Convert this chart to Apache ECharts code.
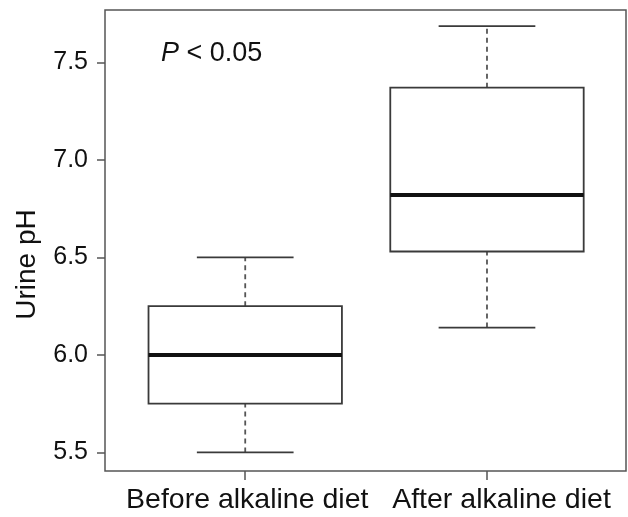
<!DOCTYPE html>
<html>
<head>
<meta charset="utf-8">
<script src="https://cdn.jsdelivr.net/npm/echarts@6/dist/echarts.min.js"></script>
<style>
html,body{margin:0;padding:0;background:#fff;}
#chart{width:628px;height:517px;}
</style>
</head>
<body>
<div id="chart"></div>
<script>
var categories = ['Before alkaline diet', 'After alkaline diet'];
var positions = [1, 2];
var lowerWhisker = [5.5, 6.14];
var q1 = [5.75, 6.53];
var median = [6.0, 6.82];
var q3 = [6.25, 7.37];
var upperWhisker = [6.5, 7.685];
var yTicks = [5.5, 6.0, 6.5, 7.0, 7.5];
var yAxisTitle = 'Urine pH';
var annotation = ['P', ' < 0.05'];

var FONT = '"Liberation Sans", Arial, Helvetica, sans-serif';
var TEXT = '#111';
var LINE = '#3a3a3a';

var data = positions.map(function (p, i) {
  return [p, lowerWhisker[i], q1[i], median[i], q3[i], upperWhisker[i]];
});

var chart = echarts.init(document.getElementById('chart'), null, {renderer: 'canvas'});
chart.setOption({
  animation: false,
  backgroundColor: '#fff',
  grid: {left: 105, right: 2, top: 10, bottom: 46, show: true, borderColor: '#555', borderWidth: 1.5, backgroundColor: 'transparent'},
  xAxis: {
    type: 'value', min: 0.42, max: 2.575,
    axisLine: {show: false},
    splitLine: {show: false},
    axisTick: {show: true, customValues: positions, length: 9, lineStyle: {color: '#555', width: 1.5}},
    axisLabel: {
      customValues: positions, margin: 15,
      formatter: function (v) { var i = positions.indexOf(v); return i === 0 ? '{a|' + categories[i] + '}' : '{b|' + categories[i] + '}'; },
      rich: {
        a: {fontSize: 28.5, fontFamily: FONT, color: TEXT, padding: [0, 0, 0, 4]},
        b: {fontSize: 28.5, fontFamily: FONT, color: TEXT, padding: [0, 0, 0, 29]}
      }
    }
  },
  yAxis: {
    type: 'value', min: 5.405, max: 7.768,
    name: yAxisTitle, nameLocation: 'middle', nameRotate: 90, nameGap: 64,
    nameTextStyle: {fontSize: 28, fontFamily: FONT, color: TEXT, padding: [0, 48, 0, 0]},
    axisLine: {show: false},
    splitLine: {show: false},
    axisTick: {show: true, customValues: yTicks, length: 8, lineStyle: {color: '#555', width: 1.5}},
    axisLabel: {customValues: yTicks, margin: 17, fontSize: 25, fontFamily: FONT, color: TEXT,
      formatter: function (v) { return v.toFixed(1); }}
  },
  graphic: [{
    type: 'text', left: 161, top: 40,
    style: {
      text: '{i|' + annotation[0] + '}{n|' + annotation[1] + '}',
      rich: {
        i: {fontSize: 27, fontStyle: 'italic', fontFamily: FONT, fill: TEXT, color: TEXT},
        n: {fontSize: 27, fontFamily: FONT, fill: TEXT, color: TEXT}
      }
    }
  }],
  series: [{
    type: 'custom',
    data: data,
    encode: {x: 0, y: [1, 2, 3, 4, 5]},
    renderItem: function (params, api) {
      var x = api.value(0);
      var lo = api.coord([x, api.value(1)]);
      var a = api.coord([x, api.value(2)]);
      var m = api.coord([x, api.value(3)]);
      var b = api.coord([x, api.value(4)]);
      var hi = api.coord([x, api.value(5)]);
      var bw = api.size([0.8, 0])[0];
      var cw = api.size([0.4, 0])[0];
      var cx = a[0];
      var solid = {stroke: LINE, lineWidth: 1.8, fill: null};
      var dashed = {stroke: '#555', lineWidth: 1.8, lineDash: [5, 4], fill: null};
      return {
        type: 'group',
        children: [
          {type: 'line', shape: {x1: cx, y1: lo[1], x2: cx, y2: a[1]}, style: dashed},
          {type: 'line', shape: {x1: cx, y1: b[1], x2: cx, y2: hi[1]}, style: dashed},
          {type: 'line', shape: {x1: cx - cw / 2, y1: lo[1], x2: cx + cw / 2, y2: lo[1]}, style: solid},
          {type: 'line', shape: {x1: cx - cw / 2, y1: hi[1], x2: cx + cw / 2, y2: hi[1]}, style: solid},
          {type: 'rect', shape: {x: cx - bw / 2, y: b[1], width: bw, height: a[1] - b[1]}, style: {stroke: LINE, lineWidth: 1.8, fill: '#fff'}},
          {type: 'line', shape: {x1: cx - bw / 2, y1: m[1], x2: cx + bw / 2, y2: m[1]}, style: {stroke: '#111', lineWidth: 4}}
        ]
      };
    }
  }]
});
</script>
</body>
</html>
